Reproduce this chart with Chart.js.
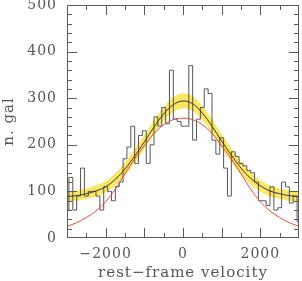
<!DOCTYPE html>
<html>
<head>
<meta charset="utf-8">
<script src="https://cdn.jsdelivr.net/npm/chart.js@4/dist/chart.umd.min.js"></script>
<style>
    html, body { margin: 0; padding: 0; background: #fff; }
    #contenedor { width: 302px; height: 281px; }
</style>
</head>
<body>
<div id="contenedor"><canvas id="grafico" width="302" height="281"></canvas></div>
<script>
// Histograma: centro de cada bin (velocidad) y número de galaxias
const centrosBin = [
    -3000, -2900, -2800, -2700, -2600, -2500, -2400, -2300, -2200, -2100,
    -2000, -1900, -1800, -1700, -1600, -1500, -1400, -1300, -1200, -1100,
    -1000, -900, -800, -700, -600, -500, -400, -300, -200, -100,
    0, 100, 200, 300, 400, 500, 600, 700, 800, 900,
    1000, 1100, 1200, 1300, 1400, 1500, 1600, 1700, 1800, 1900,
    2000, 2100, 2200, 2300, 2400, 2500, 2600, 2700, 2800, 2900, 3000
];
const cuentas = [
    60, 130, 60, 90, 150, 90, 100, 100, 90, 60,
    110, 100, 80, 110, 120, 170, 195, 240, 160, 220,
    230, 160, 200, 260, 240, 280, 245, 360, 255, 250,
    240, 240, 370, 210, 255, 280, 320, 310, 210, 180,
    215, 150, 90, 185, 175, 160, 155, 145, 140, 120,
    80, 80, 70, 110, 60, 65, 120, 110, 75, 90, 36
];

// Curvas
const velCurva = [
    -3000, -2750, -2500, -2250, -2000, -1750, -1500, -1250, -1000, -750, -500, -250,
    0, 250, 500, 750, 1000, 1250, 1500, 1750, 2000, 2250, 2500, 2750, 3000
];
const ajuste = [89, 91, 95, 101, 110, 126, 148, 176, 206, 238, 266, 286, 294, 288, 268, 240, 208, 178, 150, 128, 112, 101, 95, 91, 89];
const ajusteSup = [100, 102, 106, 113, 122, 139, 162, 191, 221, 253, 281, 302, 310, 304, 283, 255, 223, 193, 164, 141, 124, 113, 106, 102, 100];
const ajusteInf = [78, 80, 84, 89, 98, 113, 134, 161, 191, 223, 251, 270, 278, 272, 253, 225, 193, 163, 136, 115, 100, 89, 84, 80, 78];
const gaussRoja = [25, 33, 44, 58, 78, 105, 138, 170, 198, 224, 243, 254, 257, 254, 243, 224, 198, 170, 138, 105, 78, 58, 44, 33, 25];

// Etiquetas de los ejes
const etiquetasX = [-2000, 0, 2000];
const etiquetasY = [0, 100, 200, 300, 400, 500];

const COLORES = {
    texto: '#555',
    marco: '#5a5a5a',
    histo: '#555',
    ajuste: '#333',
    banda: 'rgba(248, 226, 70, 0.85)',
    roja: '#e8443e'
};
const FUENTE = "'DejaVu Serif', serif";

function puntos(xs, ys) {
    return xs.map((v, i) => ({ x: v, y: ys[i] }));
}

// Marcas hacia adentro en los cuatro lados y el marco
const marcasInternas = {
    id: 'marcasInternas',
    beforeDraw(chart) {
        chart.ctx.letterSpacing = '1px';
    },
    afterDraw(chart) {
        const { ctx, chartArea: a, scales: { x, y } } = chart;
        ctx.save();
        ctx.strokeStyle = COLORES.marco;
        ctx.lineWidth = 1;
        ctx.beginPath();
        x.ticks.forEach(t => {
            if (t.value <= x.min || t.value >= x.max) return;
            const px = Math.round(x.getPixelForValue(t.value)) + 0.5;
            const largo = t.value % 1000 === 0 ? 10 : 5;
            ctx.moveTo(px, a.bottom); ctx.lineTo(px, a.bottom - largo);
            ctx.moveTo(px, a.top); ctx.lineTo(px, a.top + largo);
        });
        y.ticks.forEach(t => {
            if (t.value <= y.min || t.value >= y.max) return;
            const py = Math.round(y.getPixelForValue(t.value)) + 0.5;
            const largo = t.value % 100 === 0 ? 10 : 5;
            ctx.moveTo(a.left, py); ctx.lineTo(a.left + largo, py);
            ctx.moveTo(a.right, py); ctx.lineTo(a.right - largo, py);
        });
        ctx.stroke();
        ctx.strokeRect(a.left + 0.5, a.top + 0.5, a.right - a.left - 1, a.bottom - a.top - 1);
        ctx.restore();
    }
};

const ctx = document.getElementById('grafico').getContext('2d');
new Chart(ctx, {
    type: 'line',
    data: {
        datasets: [
            {
                label: 'banda sup',
                data: puntos(velCurva, ajusteSup),
                borderWidth: 0,
                backgroundColor: COLORES.banda,
                fill: '+1',
                pointRadius: 0,
                tension: 0.4,
                order: 5
            },
            {
                label: 'banda inf',
                data: puntos(velCurva, ajusteInf),
                borderWidth: 0,
                fill: false,
                pointRadius: 0,
                tension: 0.4,
                order: 5
            },
            {
                label: 'histograma',
                data: puntos(centrosBin, cuentas),
                borderColor: COLORES.histo,
                borderWidth: 1,
                stepped: 'middle',
                fill: false,
                pointRadius: 0,
                order: 3
            },
            {
                label: 'gaussiana',
                data: puntos(velCurva, gaussRoja),
                borderColor: COLORES.roja,
                borderWidth: 1,
                fill: false,
                pointRadius: 0,
                tension: 0.4,
                order: 2
            },
            {
                label: 'ajuste',
                data: puntos(velCurva, ajuste),
                borderColor: COLORES.ajuste,
                borderWidth: 1,
                fill: false,
                pointRadius: 0,
                tension: 0.4,
                order: 1
            }
        ]
    },
    options: {
        responsive: false,
        animation: false,
        layout: { padding: { top: 5, right: 3, left: 0, bottom: 0 } },
        plugins: {
            legend: { display: false },
            tooltip: { enabled: false }
        },
        scales: {
            x: {
                type: 'linear',
                min: -3000,
                max: 3000,
                grid: { display: false, drawTicks: false },
                border: { display: false },
                ticks: {
                    stepSize: 500,
                    autoSkip: false,
                    maxRotation: 0,
                    padding: 8,
                    color: COLORES.texto,
                    font: { family: FUENTE, size: 14 },
                    callback: function(value) {
                        if (!etiquetasX.includes(value)) return '';
                        return value < 0 ? '\u2212' + Math.abs(value) : String(value);
                    }
                },
                title: {
                    display: true,
                    text: 'rest\u2212frame velocity',
                    color: COLORES.texto,
                    font: { family: FUENTE, size: 15, lineHeight: 1 },
                    padding: 0
                },
                afterFit: function(scale) {
                    scale.height = 43;
                    scale.paddingLeft = 0;
                    scale.paddingRight = 0;
                }
            },
            y: {
                min: 0,
                max: 500,
                grid: { display: false, drawTicks: false },
                border: { display: false },
                ticks: {
                    stepSize: 20,
                    autoSkip: false,
                    padding: 10,
                    color: COLORES.texto,
                    font: { family: FUENTE, size: 14 },
                    callback: function(value) {
                        return etiquetasY.includes(value) ? String(value) : '';
                    }
                },
                title: {
                    display: true,
                    text: 'n. gal',
                    color: COLORES.texto,
                    font: { family: FUENTE, size: 15, lineHeight: 1 },
                    padding: { top: 2, bottom: 0 }
                },
                afterFit: function(scale) {
                    scale.width = 67;
                    scale.paddingTop = 0;
                    scale.paddingBottom = 0;
                }
            }
        }
    },
    plugins: [marcasInternas]
});
</script>
</body>
</html>
